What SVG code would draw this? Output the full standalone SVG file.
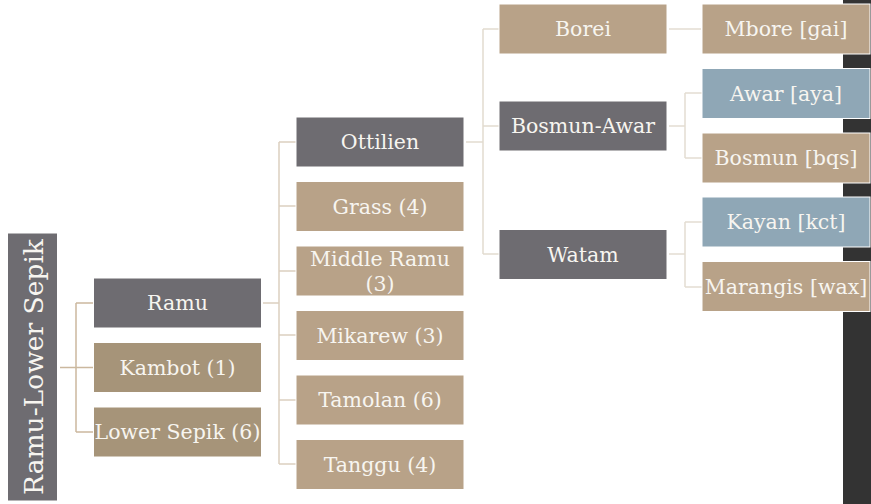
<svg xmlns="http://www.w3.org/2000/svg" width="871" height="504" viewBox="0 0 871 504">
<style>
.b{stroke:#ffffff;stroke-width:1}
.g{fill:#6e6c71}
.t1{fill:#a69479}
.t2{fill:#b8a288}
.bl{fill:#8fa7b6}
text{font-family:"DejaVu Serif","Liberation Serif",serif;font-size:20.5px;fill:#f7f5f0;text-anchor:middle;dominant-baseline:central}
.c{fill:none;stroke-width:1.5}
</style>
<rect x="843" y="0" width="28" height="504" fill="#333333"/>
<g id="connectors">
<path class="c" stroke="#cbb89e" d="M60 367.5H76M76 303V432M76 303H93M76 367.5H93M76 432H93"/>
<path class="c" stroke="#dcd0c0" d="M263 303H279M279 142V464M279 142H296M279 206H296M279 271H296M279 335H296M279 400H296M279 464H296"/>
<path class="c" stroke="#e2dbd0" d="M466 142H483M483 29V254M483 29H499M483 126H499M483 254H499"/>
<path class="c" stroke="#e4ddd2" d="M669 29H701M669 126H685M685 93V158M685 93H702M685 158H702M669 254H685M685 222V287M685 222H702M685 287H702"/>
</g>
<g id="root"><rect class="b g" x="7.5" y="233" width="50" height="268"/><text transform="translate(33 367) rotate(-90)" style="font-size:26.5px">Ramu-Lower Sepik</text></g>
<g id="ramu"><rect class="b g" x="93.5" y="278" width="168" height="50"/><text x="177.5" y="303">Ramu</text></g>
<g id="kambot"><rect class="b t1" x="93.5" y="342.5" width="168" height="50"/><text x="177.5" y="367.5">Kambot (1)</text></g>
<g id="lowersepik"><rect class="b t1" x="93.5" y="407" width="168" height="50"/><text x="177.5" y="432">Lower Sepik (6)</text></g>
<g id="ottilien"><rect class="b g" x="296" y="117" width="168" height="50"/><text x="380" y="142">Ottilien</text></g>
<g id="grass"><rect class="b t2" x="296" y="181.5" width="168" height="50"/><text x="380" y="206.5">Grass (4)</text></g>
<g id="middleramu"><rect class="b t2" x="296" y="246" width="168" height="50"/><text x="380" y="258.5">Middle Ramu</text><text x="380" y="284">(3)</text></g>
<g id="mikarew"><rect class="b t2" x="296" y="310.5" width="168" height="50"/><text x="380" y="335.5">Mikarew (3)</text></g>
<g id="tamolan"><rect class="b t2" x="296" y="375" width="168" height="50"/><text x="380" y="400">Tamolan (6)</text></g>
<g id="tanggu"><rect class="b t2" x="296" y="439.5" width="168" height="50"/><text x="380" y="464.5">Tanggu (4)</text></g>
<g id="borei"><rect class="b t2" x="499" y="4" width="168" height="50"/><text x="583" y="29">Borei</text></g>
<g id="bosmunawar"><rect class="b g" x="499" y="101" width="168" height="50"/><text x="583" y="126">Bosmun-Awar</text></g>
<g id="watam"><rect class="b g" x="499" y="229.5" width="168" height="50"/><text x="583" y="254.5">Watam</text></g>
<g id="mbore"><rect class="b t2" x="702" y="4" width="168" height="50"/><text x="786" y="29">Mbore [gai]</text></g>
<g id="awar"><rect class="b bl" x="702" y="68.5" width="168" height="50"/><text x="786" y="93.5">Awar [aya]</text></g>
<g id="bosmun"><rect class="b t2" x="702" y="133" width="168" height="50"/><text x="786" y="158">Bosmun [bqs]</text></g>
<g id="kayan"><rect class="b bl" x="702" y="197" width="168" height="50"/><text x="786" y="222">Kayan [kct]</text></g>
<g id="marangis"><rect class="b t2" x="702" y="261.5" width="168" height="50"/><text x="786" y="286.5">Marangis [wax]</text></g>
</svg>
